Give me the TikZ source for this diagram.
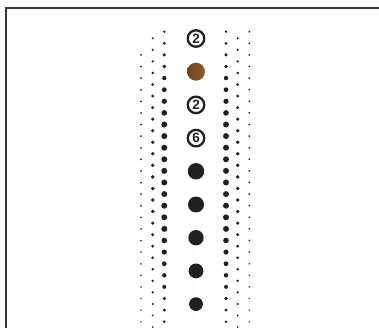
\documentclass[tikz,border=0pt]{standalone}
\usepackage{fontspec}
\setmainfont{Liberation Sans}
\begin{document}
\begin{tikzpicture}[x=1pt,y=-1pt]
\definecolor{ink}{RGB}{35,31,32}
\definecolor{brownL}{RGB}{108,66,30}
\definecolor{brownR}{RGB}{140,92,48}
\tikzset{
  circnum/.style={circle, draw=ink, line width=2.3pt, minimum size=16.5pt, inner sep=0pt,
    font=\bfseries\fontsize{13.5}{13.5}\selectfont, text=ink},
  bigdot/.style={circle, fill=ink, inner sep=0pt},
  frameline/.style={line width=2pt, draw=ink!90}
}
\useasboundingbox (0,0) rectangle (379,328);
\draw[frameline] (6,329) -- (6,8) -- (380,8);
% inner columns
\foreach \j in {0,...,25}{
  \pgfmathsetmacro\yy{31.7+11.6*\j}
  \pgfmathsetmacro\rr{min(3.0,1.3+0.22*\j,1.4+0.2*(25-\j))}
  \fill[ink] (164.3,\yy) circle[radius=\rr pt] (226,\yy) circle[radius=\rr pt];
}
% middle columns
\foreach \j in {0,...,25}{
  \pgfmathsetmacro\yy{38.3+11.55*\j}
  \pgfmathsetmacro\rr{min(1.9,1.1+0.09*\j,0.95+0.09*(25-\j))}
  \fill[ink] (152.7,\yy) circle[radius=\rr pt] (237.7,\yy) circle[radius=\rr pt];
}
% outer columns
\foreach \j in {0,...,23}{
  \pgfmathsetmacro\yy{55+11.6*\j}
  \pgfmathsetmacro\cc{min(100,100-3.2*(\j-12))}
  \fill[ink!\cc] (141,\yy) circle[radius=1pt];
}
\foreach \j in {0,...,25}{
  \pgfmathsetmacro\yy{31.7+11.6*\j}
  \pgfmathsetmacro\cc{min(100,100-3.2*(\j-14))}
  \fill[ink!\cc] (249.3,\yy) circle[radius=1pt];
}
% centre items
\node[circnum] (n1) at (196,38.5) {2};
\node[circle, inner sep=0pt, minimum size=18pt, left color=brownL, right color=brownR] (n2) at (196,71.7) {};
\node[circnum] (n3) at (196,104.9) {2};
\node[circnum] (n4) at (196,138.1) {6};
\node[bigdot, minimum size=16.5pt] (n5) at (196,171.3) {};
\node[bigdot, minimum size=16pt] (n6) at (196,204.5) {};
\node[bigdot, minimum size=15.4pt] (n7) at (196,237.7) {};
\node[bigdot, minimum size=14.8pt] (n8) at (196,270.9) {};
\node[bigdot, minimum size=13.8pt] (n9) at (196,304.1) {};
\end{tikzpicture}
\end{document}
